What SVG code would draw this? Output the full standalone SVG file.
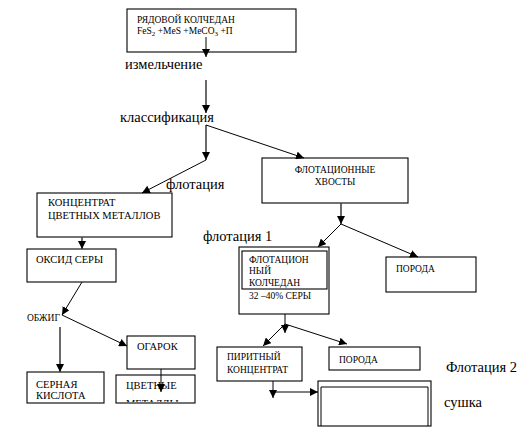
<svg xmlns="http://www.w3.org/2000/svg" width="525" height="429" viewBox="0 0 525 429">
<style>
.box{fill:#fff;stroke:#000;stroke-width:1.1}
.t{font-family:'Liberation Serif','Times New Roman',serif;font-size:10.5px;fill:#000}
.s{font-size:9.5px}
.lbl{font-family:'Liberation Serif','Times New Roman',serif;font-size:14.5px;fill:#000}
.ln{stroke:#000;stroke-width:1;fill:none}
.lg{stroke:#444;stroke-width:1.6;fill:none}
</style>
<defs>
<marker id="ah" viewBox="0 0 10 10" refX="10" refY="5" markerWidth="8" markerHeight="8" markerUnits="userSpaceOnUse" orient="auto">
<path d="M0,0 L10,5 L0,10 z" fill="#000"/>
</marker>
<clipPath id="cm"><rect x="116" y="375" width="79" height="27"/></clipPath>
</defs>
<rect width="525" height="429" fill="#fff"/>

<g id="n-ore">
<rect class="box" x="127" y="9" width="169" height="43"/>
<text class="t s" x="137" y="23">РЯДОВОЙ КОЛЧЕДАН</text>
<text class="t s" x="137" y="34">FeS<tspan font-size="7" dy="2">2</tspan><tspan dy="-2"> +MeS +MeCO</tspan><tspan font-size="7" dy="2">3</tspan><tspan dy="-2"> +П</tspan></text>
</g>
<g id="l-grind"><text class="lbl" x="125" y="69">измельчение</text></g>
<g id="l-class"><text class="lbl" x="120" y="122">классификация</text></g>
<g id="l-flot"><text class="lbl" x="166" y="189">флотация</text></g>
<g id="l-flot1"><text class="lbl" x="203" y="241">флотация 1</text></g>
<g id="l-flot2"><text class="lbl" x="446" y="372">Флотация 2</text></g>
<g id="l-dry"><text class="lbl" x="444" y="407">сушка</text></g>

<g id="n-tails">
<rect class="box" x="262" y="158" width="146" height="45"/>
<text class="t s" x="335" y="173" text-anchor="middle">ФЛОТАЦИОННЫЕ</text>
<text class="t s" x="335" y="185" text-anchor="middle">ХВОСТЫ</text>
</g>
<g id="n-conc">
<rect class="box" x="37" y="193" width="135" height="44"/>
<text class="t" x="48" y="206">КОНЦЕНТРАТ</text>
<text class="t" x="48" y="219">ЦВЕТНЫХ МЕТАЛЛОВ</text>
</g>
<g id="n-oxide">
<rect class="box" x="27" y="249" width="89" height="33"/>
<text class="t" x="36" y="263">ОКСИД СЕРЫ</text>
</g>
<g id="l-roast"><text class="t s" x="27" y="321">ОБЖИГ</text></g>
<g id="n-cinder">
<rect class="box" x="127" y="336" width="68" height="33"/>
<text class="t" x="137" y="350">ОГАРОК</text>
</g>
<g id="n-acid">
<rect class="box" x="27" y="372" width="77" height="31"/>
<text class="t" x="36" y="388">СЕРНАЯ</text>
<text class="t" x="36" y="399">КИСЛОТА</text>
</g>
<g id="n-metals">
<rect class="box" x="116" y="375" width="79" height="28"/>
<g clip-path="url(#cm)">
<text class="t" x="126" y="389">ЦВЕТНЫЕ</text>
<text class="t" x="126" y="407">МЕТАЛЛЫ</text>
</g>
</g>
<g id="n-pyr">
<rect class="box" x="239" y="247" width="90" height="67"/>
<rect class="box" x="242" y="251" width="85" height="38"/>
<text class="t s" x="249" y="263">ФЛОТАЦИОН</text>
<text class="t s" x="249" y="274">НЫЙ</text>
<text class="t s" x="249" y="286">КОЛЧЕДАН</text>
<text class="t s" x="249" y="299">32 –40% СЕРЫ</text>
</g>
<g id="n-rock1">
<rect class="box" x="386" y="257" width="90" height="35"/>
<text class="t s" x="396" y="272">ПОРОДА</text>
</g>
<g id="n-pyrconc">
<rect class="box" x="217" y="347" width="85" height="34"/>
<text class="t s" x="227" y="360">ПИРИТНЫЙ</text>
<text class="t s" x="227" y="373">КОНЦЕНТРАТ</text>
</g>
<g id="n-rock2">
<rect class="box" x="329" y="347" width="91" height="23"/>
<text class="t s" x="339" y="363">ПОРОДА</text>
</g>
<g id="n-dry">
<rect class="box" x="318" y="381" width="113" height="45"/>
<path class="ln" d="M321,426 V387 H428 V426"/>
</g>

<g id="connectors">
<line class="ln" x1="206" y1="37" x2="206" y2="57" marker-end="url(#ah)"/>
<line class="lg" x1="206" y1="80" x2="206" y2="113" marker-end="url(#ah)"/>
<line class="lg" x1="206" y1="125" x2="206" y2="160" marker-end="url(#ah)"/>
<line class="ln" x1="206" y1="125" x2="304" y2="158" marker-end="url(#ah)"/>
<line class="ln" x1="206" y1="160" x2="142" y2="193" marker-end="url(#ah)"/>
<line class="lg" x1="82" y1="237" x2="82" y2="249" marker-end="url(#ah)"/>
<line class="ln" x1="82" y1="282" x2="62" y2="315" marker-end="url(#ah)"/>
<line class="ln" x1="62" y1="315" x2="127" y2="346" marker-end="url(#ah)"/>
<line class="lg" x1="60" y1="327" x2="60" y2="372" marker-end="url(#ah)"/>
<line class="ln" x1="161" y1="369" x2="161" y2="392" marker-end="url(#ah)"/>
<line class="lg" x1="341" y1="203" x2="341" y2="224" marker-end="url(#ah)"/>
<line class="ln" x1="341" y1="224" x2="318" y2="247" marker-end="url(#ah)"/>
<line class="ln" x1="341" y1="224" x2="418" y2="257" marker-end="url(#ah)"/>
<line class="ln" x1="285" y1="314" x2="285" y2="333" marker-end="url(#ah)"/>
<line class="ln" x1="285" y1="324" x2="263" y2="346" marker-end="url(#ah)"/>
<line class="ln" x1="285" y1="324" x2="347" y2="344" marker-end="url(#ah)"/>
<line class="ln" x1="273" y1="381" x2="273" y2="398" marker-end="url(#ah)"/>
<line class="ln" x1="273" y1="392" x2="318" y2="392" marker-end="url(#ah)" stroke-width="1.4"/>
</g>
</svg>
